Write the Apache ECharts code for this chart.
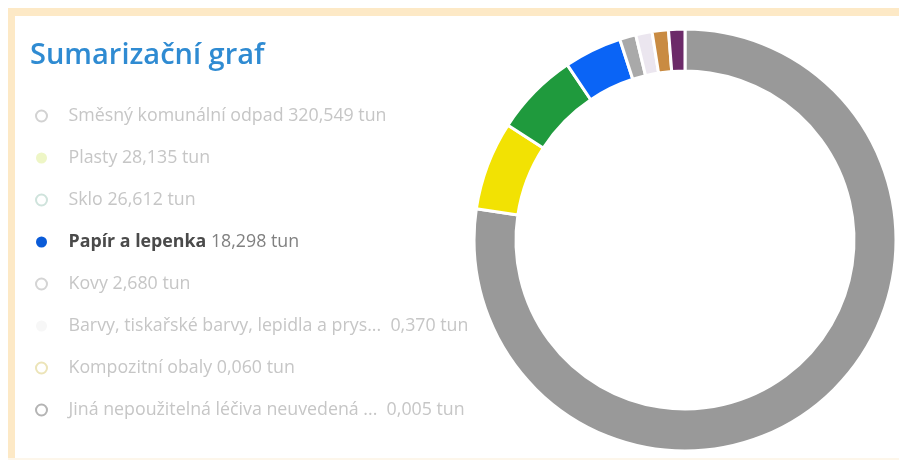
<!DOCTYPE html>
<html>
<head>
<meta charset="utf-8">
<script src="https://cdn.jsdelivr.net/npm/echarts@6/dist/echarts.min.js"></script>
<style>
  html, body { margin: 0; padding: 0; background: #fff; }
  #chart { width: 899px; height: 462px; }
</style>
</head>
<body>
<div id="chart"></div>
<script>
// kategorie odpadu (jak jsou zobrazeny v legendě)
const categories = [
  "Směsný komunální odpad",
  "Plasty",
  "Sklo",
  "Papír a lepenka",
  "Kovy",
  "Barvy, tiskařské barvy, lepidla a prys...",
  "Kompozitní obaly",
  "Jiná nepoužitelná léčiva neuvedená ..."
];
// množství v tunách
const values = [320.549, 28.135, 26.612, 18.298, 2.680, 0.370, 0.060, 0.005];
const unit = "tun";
const highlighted = "Papír a lepenka";

// barvy výsečí
const sliceColors = ["#999999", "#f2e203", "#1f9a3d", "#0a64f6", "#a9a9a9", "#ebe6ef", "#c98b42", "#6c2a69"];
// vybledlé ikony legendy (ne-vybrané položky)
const fadedIcons = ["#d2d2d2", "#eef6c6", "#cfe3dc", "#0a5bd8", "#d4d4d4", "#f7f7f7", "#ece4b8", "#b4b4b4"];

function fmt(v) {
  return v.toFixed(3).replace(".", ",");
}

const chart = echarts.init(document.getElementById("chart"));

const legendData = categories.map((name, i) => {
  const isHi = name === highlighted;
  return {
    name: name,
    itemStyle: (isHi || i === 1 || i === 5)
      ? { color: fadedIcons[i], borderWidth: 0 }
      : { color: "#fff", borderColor: fadedIcons[i], borderWidth: 2 },
    textStyle: { color: isHi ? "#4a4a4a" : "#c6c6c6" }
  };
});

const option = {
  color: sliceColors,
  title: {
    text: "Sumarizační graf",
    left: 25,
    top: 36,
    textStyle: {
      fontFamily: "Open Sans",
      fontSize: 29,
      fontWeight: 600,
      color: "#2f8bd2"
    }
  },
  graphic: [
    { type: "rect", shape: { x: 8, y: 8, width: 891, height: 8 }, style: { fill: "#fde9c6" }, silent: true },
    { type: "rect", shape: { x: 8, y: 8, width: 7, height: 452 }, style: { fill: "#fde9c6" }, silent: true },
    { type: "rect", shape: { x: 8, y: 458, width: 891, height: 2 }, style: { fill: "#fdf6ea" }, silent: true }
  ],
  legend: {
    orient: "vertical",
    left: 30,
    top: 101,
    icon: "circle",
    itemWidth: 44,
    itemHeight: 11,
    itemGap: 22,
    selectedMode: false,
    data: legendData,
    formatter: function (name) {
      const i = categories.indexOf(name);
      const gap = name.endsWith("...") ? "  " : " ";
      if (name === highlighted) {
        return "{b|" + name + "} {v|" + fmt(values[i]) + " " + unit + "}";
      }
      return name + gap + fmt(values[i]) + " " + unit;
    },
    textStyle: {
      fontFamily: "Open Sans",
      fontSize: 17.8,
      lineHeight: 20,
      rich: {
        b: { fontFamily: "Open Sans", fontSize: 17.8, fontWeight: "bold", color: "#4a4a4a" },
        v: { fontFamily: "Open Sans", fontSize: 17.8, color: "#808080" }
      }
    }
  },
  series: [
    {
      type: "pie",
      center: [685, 240],
      radius: [169, 211],
      startAngle: 90,
      clockwise: true,
      minAngle: 4.5,
      avoidLabelOverlap: false,
      silent: true,
      label: { show: false },
      labelLine: { show: false },
      itemStyle: { borderColor: "#fff", borderWidth: 3 },
      data: categories.map((name, i) => ({ name: name, value: values[i] }))
    }
  ]
};

chart.setOption(option);
</script>
</body>
</html>
